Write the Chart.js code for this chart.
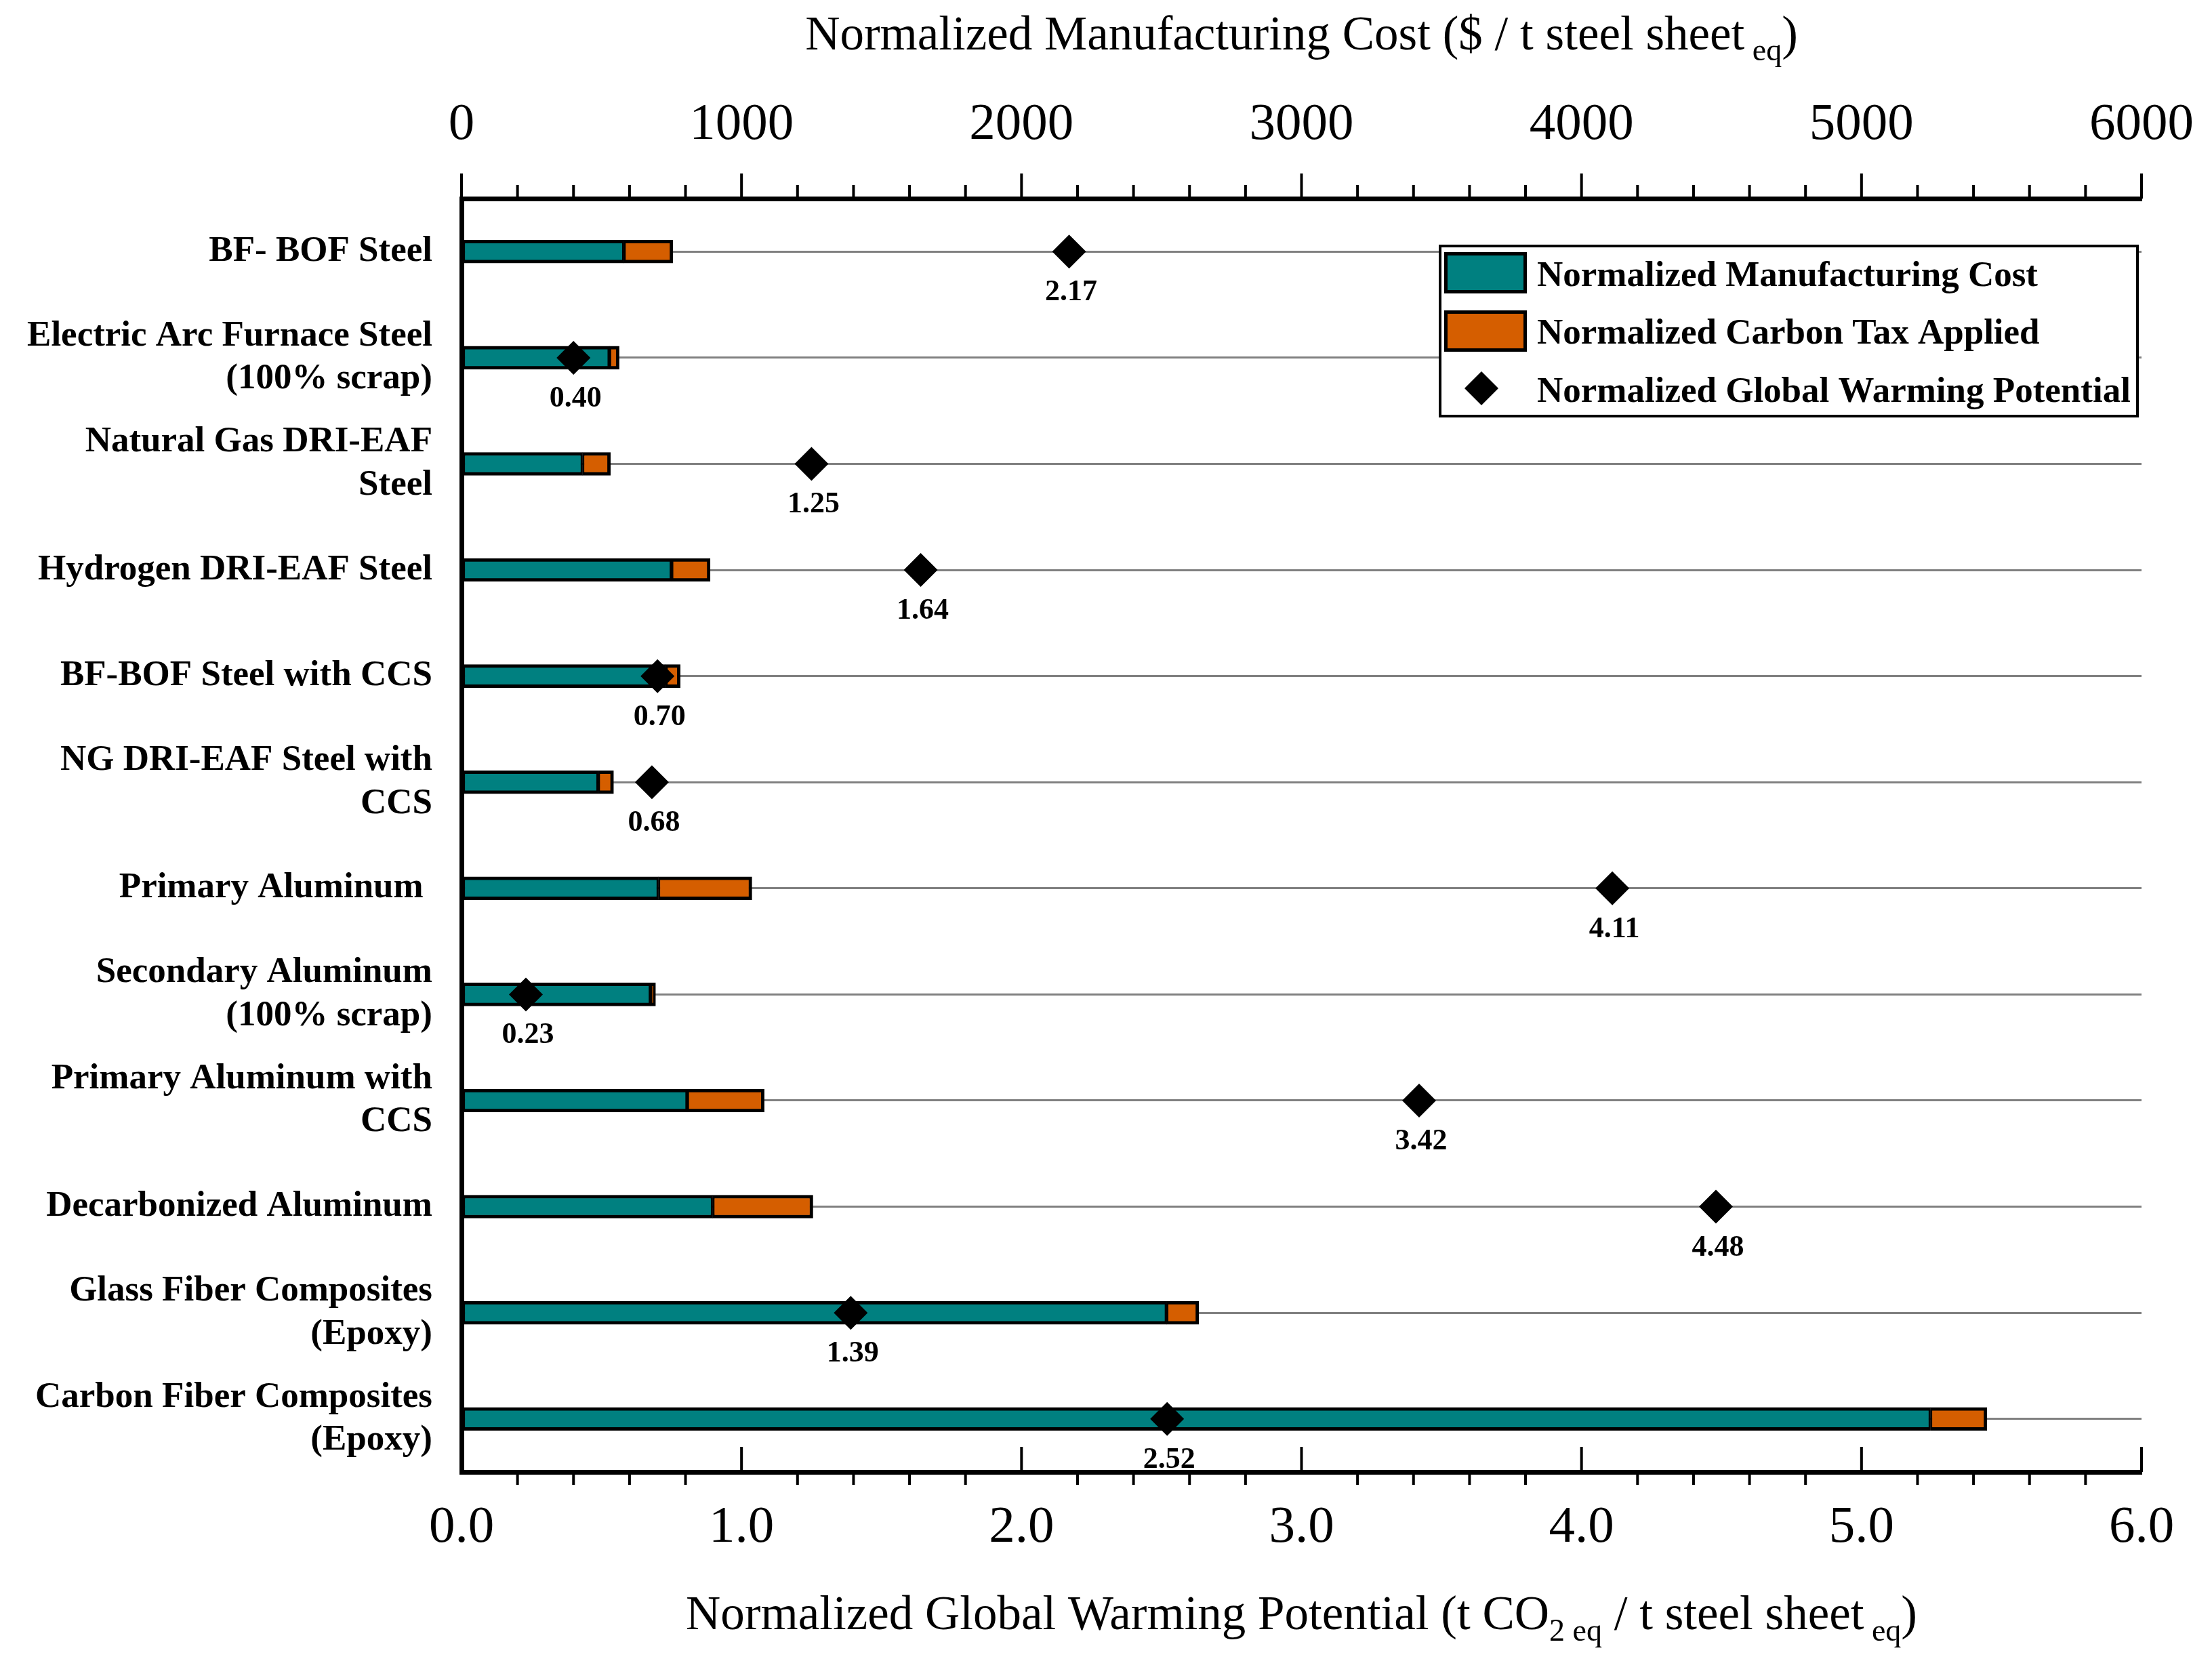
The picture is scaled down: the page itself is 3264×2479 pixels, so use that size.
<!DOCTYPE html>
<html>
<head>
<meta charset="utf-8">
<script src="https://cdn.jsdelivr.net/npm/chart.js@4.4.1/dist/chart.umd.min.js"></script>
<style>
html,body{margin:0;padding:0;background:#fff;}
canvas{display:block;}
</style>
</head>
<body>
<canvas id="chart" width="3264" height="2479"></canvas>
<script>
// ---------------- DATA ----------------
const categories = [
  'BF- BOF Steel',
  ['Electric Arc Furnace Steel', '(100% scrap)'],
  ['Natural Gas DRI-EAF', 'Steel'],
  'Hydrogen DRI-EAF Steel',
  'BF-BOF Steel with CCS',
  ['NG DRI-EAF Steel with', 'CCS'],
  'Primary Aluminum ',
  ['Secondary Aluminum', '(100% scrap)'],
  ['Primary Aluminum with', 'CCS'],
  'Decarbonized Aluminum',
  ['Glass Fiber Composites', '(Epoxy)'],
  ['Carbon Fiber Composites', '(Epoxy)']
];
// Normalized manufacturing cost ($ / t steel sheet eq) - top axis
const manufacturingCost = [580, 528, 432, 750, 730, 488, 703, 675, 806, 897, 2518, 5246];
// Normalized carbon tax applied ($ / t steel sheet eq) - stacked on top of cost
const carbonTax = [175, 35, 100, 138, 51, 55, 334, 18, 275, 358, 115, 202];
// Normalized global warming potential (t CO2 eq / t steel sheet eq) - bottom axis
const gwp = [2.17, 0.40, 1.25, 1.64, 0.70, 0.68, 4.11, 0.23, 3.42, 4.48, 1.39, 2.52];

const seriesNames = ['Normalized Manufacturing Cost', 'Normalized Carbon Tax Applied', 'Normalized Global Warming Potential'];
const costAxisTicks = [0, 1000, 2000, 3000, 4000, 5000, 6000];
const gwpAxisTicks = [0, 1, 2, 3, 4, 5, 6];

// ---------------- STYLE ----------------
const SERIF = '"Liberation Serif", "Times New Roman", serif';
const TEAL = '#008080';
const ORANGE = '#D55E00';
Chart.defaults.font.family = SERIF;
Chart.defaults.color = '#000';

// rich text helper (for subscripts)
function drawRich(ctx, segs, cx, baseline, size, subSize, subShift) {
  let total = 0;
  segs.forEach(s => {
    ctx.font = (s.sub ? subSize : size) + 'px ' + SERIF;
    s.w = ctx.measureText(s.t).width;
    total += s.w;
  });
  let x = cx - total / 2;
  ctx.textAlign = 'left';
  ctx.textBaseline = 'alphabetic';
  segs.forEach(s => {
    ctx.font = (s.sub ? subSize : size) + 'px ' + SERIF;
    ctx.fillText(s.t, x, baseline + (s.sub ? subShift : 0));
    x += s.w;
  });
}

const whiteBg = {
  id: 'whiteBg',
  beforeDraw(chart) {
    const c = chart.ctx;
    c.save();
    c.fillStyle = '#fff';
    c.fillRect(0, 0, chart.width, chart.height);
    c.restore();
  }
};

const axisTicks = {
  id: 'axisTicks',
  afterDraw(chart) {
    const c = chart.ctx;
    const ca = chart.chartArea;
    const top = chart.scales.x2;
    const bot = chart.scales.x;
    c.save();
    c.strokeStyle = '#000';
    c.lineWidth = 4;
    for (let i = 0; i <= 30; i++) {
      const v = i * 200;
      const px = top.getPixelForValue(v);
      const len = (i % 5 === 0) ? 37 : 20;
      c.beginPath();
      c.moveTo(px, ca.top);
      c.lineTo(px, ca.top - len);
      c.stroke();
    }
    for (let i = 0; i <= 30; i++) {
      const v = i / 5;
      const px = bot.getPixelForValue(v);
      c.beginPath();
      if (i % 5 === 0) {
        c.moveTo(px, ca.bottom);
        c.lineTo(px, ca.bottom - 37);
      } else {
        c.moveTo(px, ca.bottom);
        c.lineTo(px, ca.bottom + 19);
      }
      c.stroke();
    }
    c.restore();
  }
};

const axisTitles = {
  id: 'axisTitles',
  afterDraw(chart) {
    const c = chart.ctx;
    const ca = chart.chartArea;
    const cx = (ca.left + ca.right) / 2;
    c.save();
    c.fillStyle = '#000';
    drawRich(c, [
      {t: 'Normalized Manufacturing Cost ($ / t steel sheet'},
      {t: ' eq', sub: true},
      {t: ')'}
    ], cx, 73, 71, 46, 16);
    drawRich(c, [
      {t: 'Normalized Global Warming Potential (t CO'},
      {t: '2 eq', sub: true},
      {t: ' / t steel sheet'},
      {t: ' eq', sub: true},
      {t: ')'}
    ], cx, 2404, 71, 46, 17);
    c.restore();
  }
};

const pointLabels = {
  id: 'pointLabels',
  afterDatasetsDraw(chart) {
    const c = chart.ctx;
    const meta = chart.getDatasetMeta(0);
    c.save();
    c.fillStyle = '#000';
    c.font = 'bold 44px ' + SERIF;
    c.textAlign = 'center';
    c.textBaseline = 'alphabetic';
    meta.data.forEach((el, i) => {
      c.fillText(gwp[i].toFixed(2), el.x + 3, el.y + 72);
    });
    c.restore();
  }
};

const boxLegend = {
  id: 'boxLegend',
  afterDraw(chart) {
    const c = chart.ctx;
    const ca = chart.chartArea;
    const L = ca.right - 1035, T = ca.top + 70, W = 1029, H = 251;
    c.save();
    c.fillStyle = '#fff';
    c.fillRect(L, T, W, H);
    c.strokeStyle = '#000';
    c.lineWidth = 4;
    c.strokeRect(L, T, W, H);
    const sw = [[TEAL, 9], [ORANGE, 95]];
    sw.forEach(([col, dy]) => {
      c.fillStyle = col;
      c.fillRect(L + 6, T + dy, 122, 61);
      c.lineWidth = 5;
      c.strokeStyle = '#000';
      c.strokeRect(L + 8.5, T + dy + 2.5, 117, 56);
    });
    const dx = L + 61, dy = T + 210, r = 25;
    c.fillStyle = '#000';
    c.beginPath();
    c.moveTo(dx, dy - r); c.lineTo(dx + r, dy); c.lineTo(dx, dy + r); c.lineTo(dx - r, dy);
    c.closePath();
    c.fill();
    c.font = 'bold 53px ' + SERIF;
    c.textAlign = 'left';
    c.textBaseline = 'alphabetic';
    c.fillText(seriesNames[0], L + 143, T + 59);
    c.fillText(seriesNames[1], L + 143, T + 144);
    c.fillText(seriesNames[2], L + 143, T + 230);
    c.restore();
  }
};

const ctx = document.getElementById('chart').getContext('2d');
new Chart(ctx, {
  type: 'bar',
  data: {
    labels: categories,
    datasets: [
      {
        type: 'scatter',
        label: seriesNames[2],
        data: gwp.map((v, i) => ({x: v, y: i})),
        xAxisID: 'x',
        yAxisID: 'y',
        stack: 'cost',
        pointStyle: 'rectRot',
        pointRadius: 25,
        pointHoverRadius: 25,
        backgroundColor: '#000',
        borderColor: '#000',
        borderWidth: 0,
        order: 0
      },
      {
        label: seriesNames[0],
        data: manufacturingCost,
        indexAxis: 'y',
        xAxisID: 'x2',
        yAxisID: 'y',
        stack: 'cost',
        grouped: false,
        backgroundColor: TEAL,
        borderColor: '#000',
        borderWidth: {top: 5, bottom: 5, left: 5, right: 3},
        borderSkipped: false,
        barThickness: 34,
        order: 1
      },
      {
        label: seriesNames[1],
        data: carbonTax,
        indexAxis: 'y',
        xAxisID: 'x2',
        yAxisID: 'y',
        stack: 'cost',
        grouped: false,
        backgroundColor: ORANGE,
        borderColor: '#000',
        borderWidth: {top: 5, bottom: 5, left: 3, right: 5},
        borderSkipped: false,
        barThickness: 34,
        order: 1
      }
    ]
  },
  options: {
    responsive: false,
    devicePixelRatio: 1,
    animation: false,
    events: [],
    layout: {padding: {left: 0, right: 104, top: 0, bottom: 0}},
    plugins: {
      legend: {display: false},
      tooltip: {enabled: false},
      title: {display: false}
    },
    scales: {
      y: {
        type: 'category',
        position: 'left',
        offset: true,
        afterFit(s) { s.width = 681; s.paddingTop = 0; s.paddingBottom = 0; },
        grid: {display: true, drawOnChartArea: true, drawTicks: false, offset: false, color: '#808080', lineWidth: 3},
        border: {display: true, color: '#000', width: 7},
        ticks: {autoSkip: false, padding: 43, color: '#000', font: {family: SERIF, size: 53, weight: 'bold', lineHeight: 1.2}}
      },
      x2: {
        type: 'linear',
        position: 'top',
        offset: false,
        min: costAxisTicks[0],
        max: costAxisTicks[costAxisTicks.length - 1],
        afterFit(s) { s.height = 293; s.paddingLeft = 0; s.paddingRight = 0; },
        afterBuildTicks(s) { s.ticks = costAxisTicks.map(v => ({value: v})); },
        grid: {display: true, offset: false, drawOnChartArea: false, drawTicks: false},
        border: {display: true, color: '#000', width: 7},
        ticks: {padding: 62, color: '#000', font: {family: SERIF, size: 77}, maxRotation: 0, callback: v => String(v)}
      },
      x: {
        type: 'linear',
        position: 'bottom',
        offset: false,
        min: gwpAxisTicks[0],
        max: gwpAxisTicks[gwpAxisTicks.length - 1],
        afterFit(s) { s.height = 2479 - 2172; s.paddingLeft = 0; s.paddingRight = 0; },
        afterBuildTicks(s) { s.ticks = gwpAxisTicks.map(v => ({value: v})); },
        grid: {display: true, offset: false, drawOnChartArea: false, drawTicks: false},
        border: {display: true, color: '#000', width: 7},
        ticks: {padding: 37, color: '#000', font: {family: SERIF, size: 77}, maxRotation: 0, callback: v => Number(v).toFixed(1)}
      }
    }
  },
  plugins: [whiteBg, axisTicks, axisTitles, pointLabels, boxLegend]
});
</script>
</body>
</html>
